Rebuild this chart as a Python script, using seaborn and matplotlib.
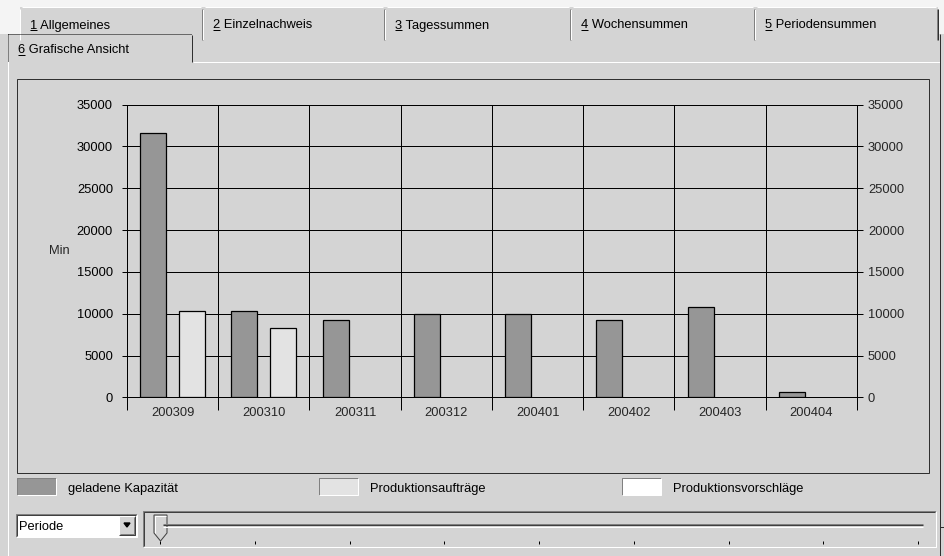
import numpy as np
import pandas as pd
import matplotlib.pyplot as plt
import seaborn as sns
from matplotlib.patches import Rectangle, Polygon

# Werte (Minuten je Periode)
perioden = ['200309', '200310', '200311', '200312', '200401', '200402', '200403', '200404']
geladene_kapazitaet = [31650, 10300, 9300, 10000, 10000, 9300, 10750, 600]
produktionsauftraege = [10300, 8300, np.nan, np.nan, np.nan, np.nan, np.nan, np.nan]
produktionsvorschlaege = [np.nan] * 8  # keine Balken sichtbar
y_ticks = [0, 5000, 10000, 15000, 20000, 25000, 30000, 35000]

serien = ['geladene Kapazität', 'Produktionsaufträge', 'Produktionsvorschläge']
farben = ['#969696', '#e3e3e3', '#ffffff']
tabs_oben = ['1 Allgemeines', '2 Einzelnachweis', '3 Tagessummen', '4 Wochensummen', '5 Periodensummen']
tab_aktiv = '6 Grafische Ansicht'
auswahl = 'Periode'

GRAU = '#d4d4d4'
FS = 9.3
PX = 0.72  # 1 Pixel in Punkt bei dpi 100

sns.set_style('ticks')
plt.rcParams['font.family'] = ['Liberation Sans', 'DejaVu Sans']

fig = plt.figure(figsize=(9.45, 5.56), dpi=100, facecolor=GRAU)

# Hintergrund-Achse in Pixelkoordinaten fuer die Fensterelemente
bg = fig.add_axes([0, 0, 1, 1], zorder=0)
bg.set_xlim(0, 945)
bg.set_ylim(556, 0)
bg.axis('off')


def rect(x0, y0, x1, y1, fc, ec='none'):
    bg.add_patch(Rectangle((x0, y0), x1 - x0, y1 - y0, facecolor=fc, edgecolor=ec, linewidth=PX))


def line(xs, ys, c, lw=1, ls='-'):
    bg.plot(xs, ys, color=c, lw=lw * PX, ls=ls, solid_capstyle='butt')


def sunken(x0, y0, x1, y1):
    line([x0, x0, x1], [y1, y0, y0], '#808080')
    line([x0 + 1, x0 + 1, x1 - 1], [y1 - 1, y0 + 1, y0 + 1], '#404040')
    line([x0, x1, x1], [y1, y1, y0], 'white')


def raised(x0, y0, x1, y1):
    line([x0, x0, x1], [y1, y0, y0], 'white')
    line([x0, x1, x1], [y1, y1, y0], '#404040')
    line([x0 + 1, x1 - 1, x1 - 1], [y1 - 1, y1 - 1, y0 + 1], '#808080')


def label(x, y, s, underline=False):
    bg.text(x, y, s, fontsize=FS, va='baseline', ha='left', color='black')
    if underline:
        line([x, x + 7], [y + 1.8, y + 1.8], 'black')


# Reiter
rect(0, 0, 945, 34, '#f4f4f4')
kanten = [20, 203, 385, 571, 755, 938]
for i, name in enumerate(tabs_oben):
    l, r = kanten[i], kanten[i + 1]
    rect(l, 7, r, 40, GRAU)
    line([l, l], [40, 9], 'white')
    line([l + 2, r - 2], [7, 7], 'white')
    line([r - 1, r - 1], [9, 40], '#808080')
    line([r, r], [9, 40], '#303030')
    label(l + 10, 28.5, name, underline=True)

rect(0, 34, 945, 556, GRAU)
line([193, 940], [62, 62], 'white')
line([8, 8], [34, 556], 'white')
line([8, 192], [34, 34], 'black', ls=(0, (1, 1)))
line([8, 8], [34, 62], 'black', ls=(0, (1, 1)))
line([192, 192], [35, 62], '#303030')
label(18, 53.3, tab_aktiv, underline=True)
line([940, 940], [34, 556], '#303030')
line([940, 945], [527, 527], '#303030')

# Rahmen um die Grafik
rect(17, 79, 929, 473, 'none', '#303030')

# Legende
legende_x = [17, 319, 622]
for x, name, fc in zip(legende_x, serien, farben):
    rect(x, 478, x + 39, 495, fc)
    line([x, x, x + 39], [495, 478, 478], '#808080')
    line([x, x + 39, x + 39], [495, 495, 478], 'white')
    label(x + 51, 492, name)

# Auswahlfeld
rect(16, 514, 137, 537, 'white')
sunken(16, 514, 137, 537)
rect(119, 516, 135, 535, GRAU)
raised(119, 516, 135, 535)
bg.add_patch(Polygon([(124, 523), (130, 523), (127, 527)], closed=True, color='black'))
label(19, 530, auswahl)

# Schieberegler
sunken(143, 511, 936, 547)
line([163, 923], [524, 524], '#808080')
line([163, 923], [525, 525], '#404040')
line([163, 923], [527, 527], 'white')
for x in np.linspace(160, 918, 9):
    line([x, x], [541, 544], 'black')
bg.add_patch(Polygon([(154, 515), (167, 515), (167, 533), (160.5, 541), (154, 533)],
                     closed=True, facecolor=GRAU, edgecolor='#404040', linewidth=PX))
line([155, 155, 166], [533, 516, 516], 'white')

# Balkendiagramm
ax = fig.add_axes([127 / 945, (556 - 397.3) / 556, 730 / 945, 292.6 / 556], zorder=2)
ax.set_facecolor('none')
df = pd.DataFrame({
    'Periode': perioden * 2,
    'Min': geladene_kapazitaet + produktionsauftraege,
    'Serie': [serien[0]] * 8 + [serien[1]] * 8,
}).dropna()
sns.barplot(data=df, x='Periode', y='Min', hue='Serie', order=perioden,
            hue_order=serien[:2], palette=farben[:2], width=0.853, gap=0.33,
            edgecolor='black', linewidth=0.9, saturation=1, errorbar=None,
            legend=False, ax=ax)

ax.set_xlim(-0.5, 7.5)
ax.set_ylim(0, 35000)
ax.set_yticks(y_ticks)
ax.set_yticklabels([str(v) for v in y_ticks], fontsize=FS)
ax.set_xticks(range(len(perioden)))
ax.set_xticklabels(perioden, fontsize=FS)
ax.set_xticks(np.arange(-0.5, len(perioden), 1), minor=True)
ax.grid(axis='y', which='major', color='black', lw=PX)
ax.grid(axis='x', which='minor', color='black', lw=PX)
ax.grid(axis='x', which='major', visible=False)
ax.set_axisbelow(True)
ax.tick_params(axis='x', which='major', length=0, pad=7)
ax.tick_params(axis='x', which='minor', length=13 * PX, width=PX, color='black', direction='out')
ax.tick_params(axis='y', length=5 * PX, width=PX, color='black', pad=6.5, labelcolor='black')
ax.set_xlabel('')
ax.set_ylabel('Min', rotation=0, ha='center', va='center', fontsize=FS)
ax.yaxis.set_label_coords(-0.093, 0.5)
for s in ax.spines.values():
    s.set_color('black')
    s.set_linewidth(PX)

ax2 = ax.twinx()
ax2.set_ylim(0, 35000)
ax2.set_yticks(y_ticks)
ax2.set_yticklabels([str(v) for v in y_ticks], fontsize=FS)
ax2.tick_params(axis='y', length=6 * PX, width=PX, color='black', pad=3.6)
for s in ax2.spines.values():
    s.set_color('black')
    s.set_linewidth(PX)

fig.savefig('out.png', dpi=100, facecolor=GRAU)
